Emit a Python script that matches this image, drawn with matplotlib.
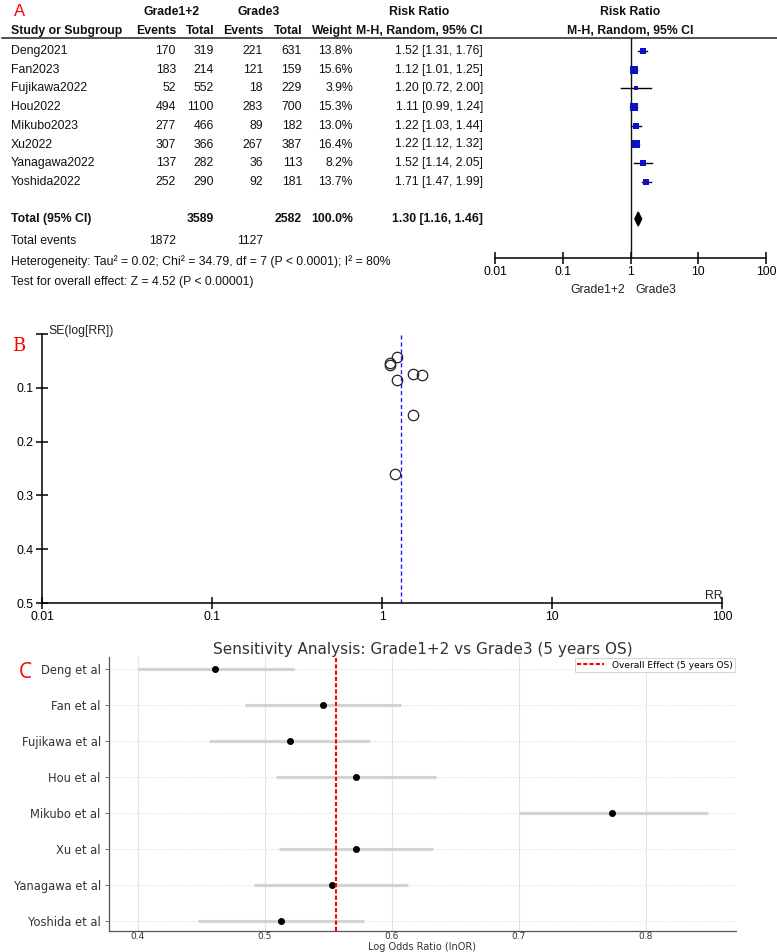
import numpy as np
import matplotlib.pyplot as plt

W, H = 777, 952

# ---- data: panel A (forest plot) ----
studies = ['Deng2021', 'Fan2023', 'Fujikawa2022', 'Hou2022', 'Mikubo2023',
           'Xu2022', 'Yanagawa2022', 'Yoshida2022']
events_g12 = [170, 183, 52, 494, 277, 307, 137, 252]
total_g12 = [319, 214, 552, 1100, 466, 366, 282, 290]
events_g3 = [221, 121, 18, 283, 89, 267, 36, 92]
total_g3 = [631, 159, 229, 700, 182, 387, 113, 181]
weight = [13.8, 15.6, 3.9, 15.3, 13.0, 16.4, 8.2, 13.7]
rr = [1.52, 1.12, 1.20, 1.11, 1.22, 1.22, 1.52, 1.71]
rr_lo = [1.31, 1.01, 0.72, 0.99, 1.03, 1.12, 1.14, 1.47]
rr_hi = [1.76, 1.25, 2.00, 1.24, 1.44, 1.32, 2.05, 1.99]
pooled_rr, pooled_lo, pooled_hi = 1.30, 1.16, 1.46
sum_total_g12, sum_total_g3 = 3589, 2582
sum_events_g12, sum_events_g3 = 1872, 1127
sum_weight = 100.0

# ---- data: panel B (funnel plot) ----
se_log_rr = [0.075, 0.054, 0.261, 0.057, 0.085, 0.042, 0.150, 0.077]

# ---- data: panel C (sensitivity analysis) ----
sens_labels = ['Deng et al', 'Fan et al', 'Fujikawa et al', 'Hou et al',
               'Mikubo et al', 'Xu et al', 'Yanagawa et al', 'Yoshida et al']
sens_lnor = [0.461, 0.546, 0.520, 0.572, 0.773, 0.572, 0.553, 0.513]
sens_lo = [0.400, 0.484, 0.456, 0.509, 0.700, 0.511, 0.491, 0.447]
sens_hi = [0.523, 0.607, 0.583, 0.635, 0.849, 0.632, 0.613, 0.578]
overall_lnor = 0.556

fig = plt.figure(figsize=(W / 100, H / 100), dpi=100)


def px_axes(x0, y0, x1, y1):
    return fig.add_axes([x0 / W, 1 - y1 / H, (x1 - x0) / W, (y1 - y0) / H])


def ftext(x, y, s, **kw):
    return fig.text(x / W, 1 - y / H, s, **kw)


# ================= Panel A =================
ARIAL = 'Liberation Sans'
fs = 8.8
axT = px_axes(0, 0, W, 300)
axT.set_xlim(0, W)
axT.set_ylim(300, 0)
axT.axis('off')


def t(x, y, s, ha='right', bold=False, size=fs):
    axT.text(x, y, s, ha=ha, va='center', fontsize=size, family=ARIAL,
             fontweight='bold' if bold else 'normal', color='#111111')


t(172, 12, 'Grade1+2', ha='center', bold=True)
t(259, 12, 'Grade3', ha='center', bold=True)
t(419, 12, 'Risk Ratio', ha='center', bold=True)
t(630, 12, 'Risk Ratio', ha='center', bold=True)
t(11, 31, 'Study or Subgroup', ha='left', bold=True)
for x, s in [(176, 'Events'), (214, 'Total'), (263, 'Events'), (302, 'Total'),
             (353, 'Weight'), (483, 'M-H, Random, 95% CI')]:
    t(x, 31, s, bold=True)
t(630, 31, 'M-H, Random, 95% CI', ha='center', bold=True)
axT.plot([2, W], [38, 38], color='#222222', lw=1.1)

row_y = 51 + 18.7 * np.arange(len(studies))
for i, y in enumerate(row_y):
    t(11, y, studies[i], ha='left')
    t(176, y, str(events_g12[i]))
    t(214, y, str(total_g12[i]))
    t(263, y, str(events_g3[i]))
    t(302, y, str(total_g3[i]))
    t(353, y, f'{weight[i]:.1f}%')
    t(483, y, f'{rr[i]:.2f} [{rr_lo[i]:.2f}, {rr_hi[i]:.2f}]')

y_tot = 219
t(11, y_tot, 'Total (95% CI)', ha='left', bold=True)
t(214, y_tot, str(sum_total_g12), bold=True)
t(302, y_tot, str(sum_total_g3), bold=True)
t(353, y_tot, f'{sum_weight:.1f}%', bold=True)
t(483, y_tot, f'{pooled_rr:.2f} [{pooled_lo:.2f}, {pooled_hi:.2f}]', bold=True)
t(11, 241, 'Total events', ha='left')
t(176, 241, str(sum_events_g12))
t(263, 241, str(sum_events_g3))
t(11, 262, 'Heterogeneity: Tau² = 0.02; Chi² = 34.79, df = 7 (P < 0.0001); I² = 80%', ha='left')
t(11, 282, 'Test for overall effect: Z = 4.52 (P < 0.00001)', ha='left')

axF = px_axes(495, 38, 766, 258)
axF.set_xscale('log')
axF.set_xlim(0.01, 100)
axF.set_ylim(258, 38)
axF.patch.set_alpha(0)
for s in ['top', 'left', 'right']:
    axF.spines[s].set_visible(False)
axF.spines['bottom'].set_linewidth(1.1)
axF.set_yticks([])
axF.set_xticks([0.01, 0.1, 1, 10, 100])
axF.set_xticklabels(['0.01', '0.1', '1', '10', '100'], family=ARIAL, fontsize=fs)
axF.xaxis.set_minor_locator(plt.NullLocator())
axF.tick_params(axis='x', direction='inout', length=8, width=1.1, pad=2)
axF.axvline(1, color='#111111', lw=1.0)
for i, y in enumerate(row_y):
    axF.plot([rr_lo[i], rr_hi[i]], [y, y], color='black', lw=1.0)
    axF.plot(rr[i], y, 's', color='#1010c8', ms=1.3 * np.sqrt(weight[i]), mew=0)
axF.fill([pooled_lo, pooled_rr, pooled_hi, pooled_rr],
         [y_tot, y_tot - 7, y_tot, y_tot + 7], color='black')
ftext(625, 290, 'Grade1+2', ha='right', va='center', family=ARIAL, fontsize=fs, color='#222222')
ftext(635, 290, 'Grade3', ha='left', va='center', family=ARIAL, fontsize=fs, color='#222222')
ftext(14, 11, 'A', ha='left', va='center', fontsize=12, color='red', family=ARIAL)

# ================= Panel B =================
axB = px_axes(42, 334, 722, 603)
axB.set_xscale('log')
axB.set_xlim(0.01, 100)
axB.set_ylim(0.5, 0)
for s in ['top', 'right']:
    axB.spines[s].set_visible(False)
for s in ['left', 'bottom']:
    axB.spines[s].set_linewidth(1.1)
axB.set_xticks([0.01, 0.1, 1, 10, 100])
axB.set_xticklabels(['0.01', '0.1', '1', '10', '100'], family=ARIAL, fontsize=fs)
axB.xaxis.set_minor_locator(plt.NullLocator())
axB.set_yticks([0, 0.1, 0.2, 0.3, 0.4, 0.5])
axB.set_yticklabels(['', '0.1', '0.2', '0.3', '0.4', '0.5'], family=ARIAL, fontsize=fs)
axB.tick_params(direction='inout', length=8, width=1.1, pad=2)
axB.axvline(pooled_rr, color='#1a1aff', lw=1.0, ls=(0, (3, 2)))
axB.plot(rr, se_log_rr, 'o', mfc='none', mec='#222222', ms=7.5, mew=0.9, ls='none')
ftext(48, 331, 'SE(log[RR])', ha='left', va='center', family=ARIAL, fontsize=fs, color='#222222')
ftext(722, 596, 'RR', ha='right', va='center', family=ARIAL, fontsize=fs, color='#222222')
ftext(12, 346, 'B', ha='left', va='center', fontsize=13, color='red', family='DejaVu Serif')

# ================= Panel C =================
axC = px_axes(109, 657, 736, 931)
ypos = np.arange(len(sens_labels))
for i in ypos:
    axC.plot([sens_lo[i], sens_hi[i]], [i, i], color='lightgray', lw=2.2, solid_capstyle='butt', zorder=2)
axC.plot(sens_lnor, ypos, 'o', color='black', ms=4, zorder=3)
axC.axvline(overall_lnor, color='red', ls=(0, (2, 1)), lw=1.5, zorder=4,
            label='Overall Effect (5 years OS)')
axC.set_xlim(0.3772, 0.8709)
axC.set_ylim(len(sens_labels) - 1 + 0.278, -0.333)
axC.set_yticks(ypos)
axC.set_yticklabels(sens_labels, fontsize=8.3, color='#333333')
axC.set_xticks([0.4, 0.5, 0.6, 0.7, 0.8])
axC.set_xticklabels(['0.4', '0.5', '0.6', '0.7', '0.8'], fontsize=6.5, color='#333333')
axC.tick_params(axis='y', length=3, width=0.6, color='#555555', pad=3)
axC.tick_params(axis='x', length=0, pad=1)
axC.grid(axis='x', color='#e4e4e4', lw=0.8)
axC.grid(axis='y', color='#dddddd', lw=0.8, ls=':')
axC.set_axisbelow(True)
for s in ['top', 'right']:
    axC.spines[s].set_visible(False)
for s in ['left', 'bottom']:
    axC.spines[s].set_color('#555555')
    axC.spines[s].set_linewidth(0.9)
axC.set_title('Sensitivity Analysis: Grade1+2 vs Grade3 (5 years OS)', fontsize=11,
              color='#333333', pad=2)
ftext(422, 946.5, 'Log Odds Ratio (lnOR)', ha='center', va='center', fontsize=7, color='#333333')
leg = axC.legend(loc='upper right', fontsize=6.5, fancybox=False, framealpha=1,
                 borderaxespad=0.15, handlelength=3, borderpad=0.25)
leg.get_frame().set_edgecolor('#cccccc')
leg.get_frame().set_linewidth(0.6)
ftext(19, 673, 'C', ha='left', va='center', fontsize=15, color='red', family='Open Sans')

fig.savefig('out.png', dpi=100)
